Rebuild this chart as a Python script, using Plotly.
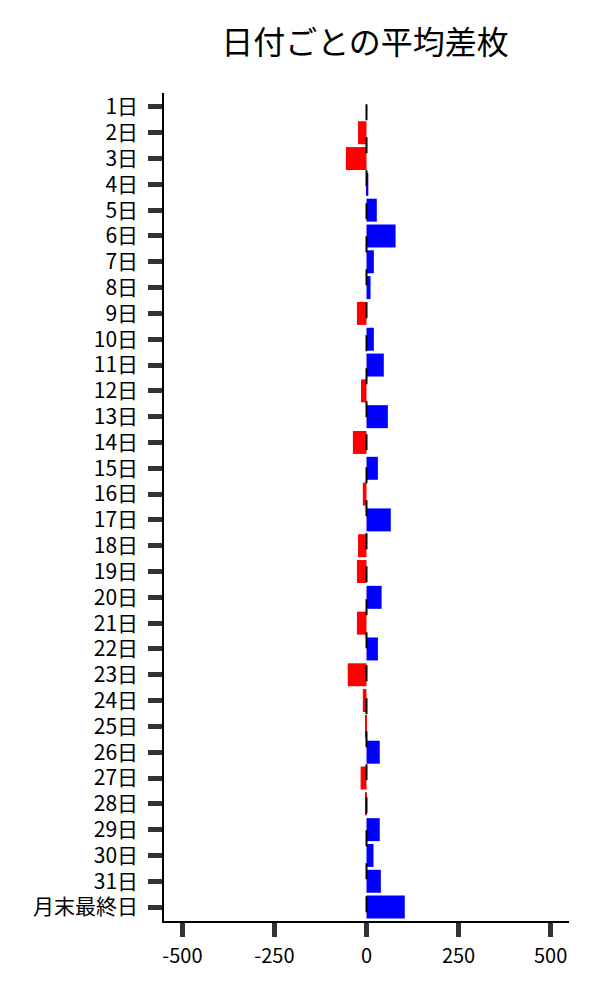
import plotly.graph_objects as go

categories = [f"{d}日" for d in range(1, 32)] + ["月末最終日"]
values = [0, -23, -56, 5, 28, 79, 20, 11, -26, 20, 47, -15, 58, -37, 31, -10,
          66, -23, -26, 41, -26, 31, -51, -10, -2, 36, -16, -2, 36, 19, 39, 104]
x_ticks = [-500, -250, 0, 250, 500]

colors = ["#0000ff" if v >= 0 else "#ff0000" for v in values]

FONT = "Noto Sans CJK JP"

fig = go.Figure()
fig.add_trace(go.Bar(
    x=values, y=categories, orientation="h",
    marker=dict(color=colors, line=dict(width=0)),
    hoverinfo="x+y",
))

fig.add_shape(type="line", xref="x", yref="y", x0=0, x1=0, y0=-0.1, y1=31.5,
              line=dict(color="black", width=2, dash="16px,17px"), layer="above")

fig.update_layout(
    width=600, height=1000,
    margin=dict(l=156, r=39, t=85, b=87, autoexpand=False),
    paper_bgcolor="white", plot_bgcolor="white",
    font=dict(family=FONT, size=20, color="black"),
    title=dict(text="日付ごとの平均差枚", x=0.595, xanchor="center", y=0.965, yanchor="middle",
               font=dict(family=FONT, size=32, color="black")),
    bargap=0.11,
    showlegend=False,
)
fig.update_xaxes(
    range=[-550, 550], tickvals=x_ticks, ticktext=[str(v) for v in x_ticks],
    showgrid=False, zeroline=False, automargin=False,
    showline=True, linecolor="black", linewidth=1.5,
    ticks="outside", ticklen=14, tickwidth=5, tickcolor="#333333",
    ticklabelstandoff=2,
    tickfont=dict(family=FONT, size=20, color="black"),
)
fig.update_yaxes(
    type="category", categoryorder="array", categoryarray=categories,
    range=[31.54, -0.54],
    showgrid=False, zeroline=False, automargin=False,
    showline=True, linecolor="black", linewidth=1.5,
    ticks="outside", ticklen=14, tickwidth=5, tickcolor="#333333",
    ticklabelstandoff=6,
    tickfont=dict(family=FONT, size=21, color="black"),
)

fig.write_html("out.html")
